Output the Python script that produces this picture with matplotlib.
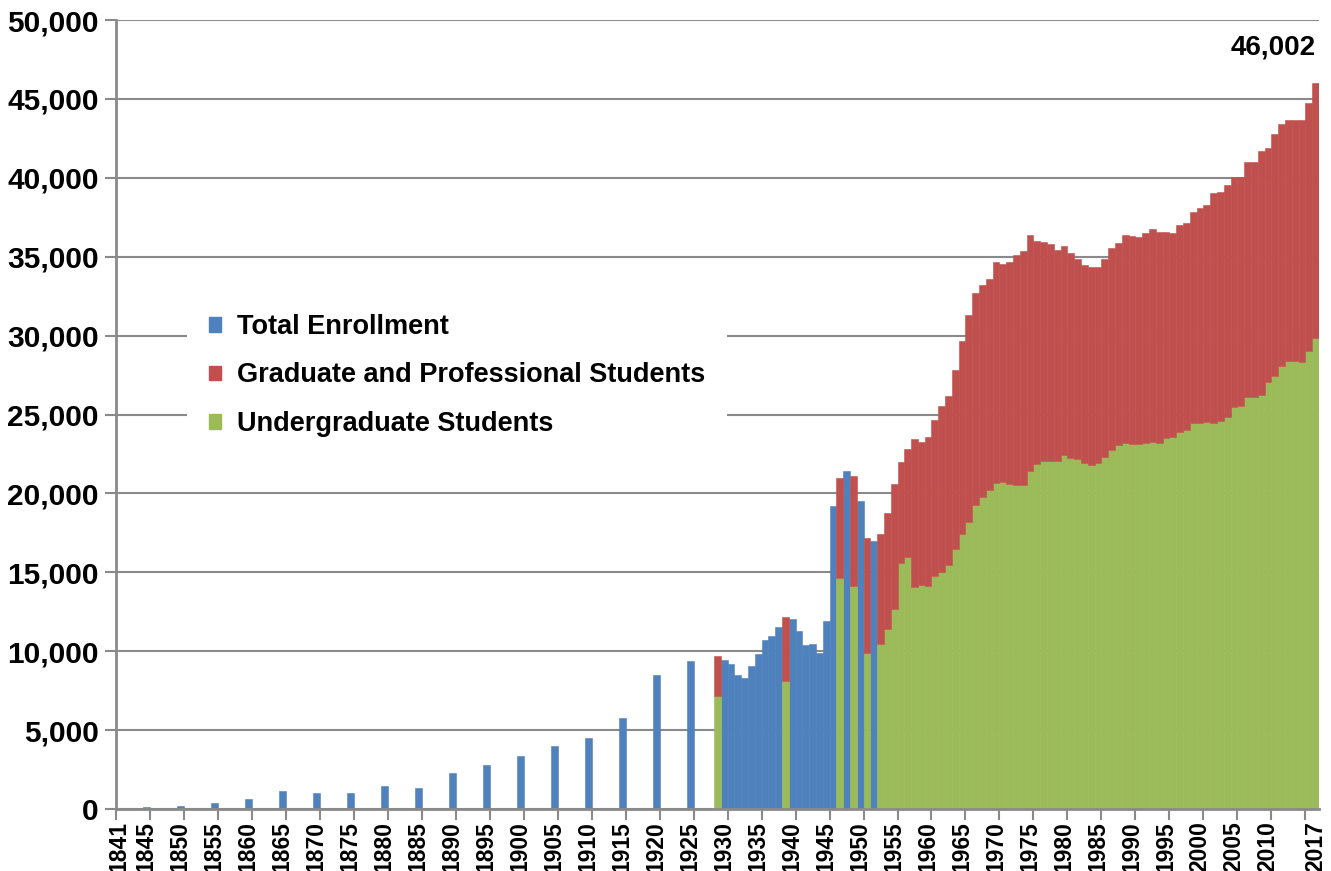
import matplotlib.pyplot as plt
from matplotlib.patches import Patch
from matplotlib.ticker import FuncFormatter, FixedLocator
import numpy as np

plt.rcParams['font.family'] = ['Liberation Sans', 'DejaVu Sans']

first_year = 1841
last_year = 2017

# years with only a total count (blue)
total_years = [1845, 1850, 1855, 1860, 1865, 1870, 1875, 1880, 1885, 1890, 1895,
               1900, 1905, 1910, 1915, 1920, 1925,
               1930, 1931, 1932, 1933, 1934, 1935, 1936, 1937, 1938,
               1940, 1941, 1942, 1943, 1944, 1945, 1946, 1948, 1950, 1952]
total_enrollment = [100, 160, 380, 610, 1160, 1040, 1040, 1460, 1340, 2310, 2780,
                    3330, 3960, 4510, 5760, 8470, 9360,
                    9430, 9175, 8520, 8285, 9050, 9850, 10680, 10975, 11505,
                    12035, 11275, 10385, 10425, 9915, 11890, 19180, 21400, 19540, 17015]

# years split into undergraduate / graduate
split_years = [1929, 1939, 1947, 1949, 1951] + list(range(1953, 2018))
undergrad = [7140, 8115, 14640, 14155, 9860,
             10470, 11400, 12700, 15590, 15980, 14100, 14180, 14150, 14740, 15045,
             15465, 16455, 17400, 18160, 19250, 19800, 20200, 20690, 20740, 20600,
             20560, 20520, 21400, 21850, 22040, 22040, 22040, 22420, 22250, 22160,
             21900, 21800, 21900, 22290, 22720, 23050, 23180, 23140, 23150, 23215,
             23280, 23170, 23530, 23550, 23910, 24020, 24440, 24480, 24520, 24480,
             24590, 24860, 25450, 25540, 26090, 26090, 26240, 27040, 27420, 28050,
             28370, 28410, 28330, 29050, 29850]
graduate = [2585, 4050, 6335, 6930, 7330,
            6980, 7360, 7920, 6420, 6810, 9370, 9050, 9420, 9930, 10515,
            10725, 11345, 12280, 13170, 13450, 13390, 13400, 13990, 13830, 14060,
            14570, 14840, 14950, 14150, 13870, 13780, 13380, 13260, 12960, 12690,
            12550, 12530, 12430, 12540, 12810, 12810, 13180, 13150, 13100, 13265,
            13470, 13370, 13050, 12970, 13090, 13130, 13410, 13620, 13770, 14530,
            14480, 14680, 14610, 14520, 14920, 14920, 15470, 14860, 15340, 15350,
            15320, 15240, 15320, 15700, 16152]

label_years = [1841] + list(range(1845, 2015, 5)) + [2017]

blue = '#4F81BD'
red = '#C0504D'
green = '#9BBB59'
grey = '#8A8A8A'

fig = plt.figure(figsize=(13.31, 8.71), dpi=100)
ax = fig.add_axes([0.0869, 0.0712, 0.9041, 0.9058])

xt = np.array(total_years) - first_year + 0.5
xs = np.array(split_years) - first_year + 0.5
ax.bar(xt, total_enrollment, width=1.0, color=blue, edgecolor=blue, linewidth=0.4, zorder=3)
ax.bar(xs, undergrad, width=1.0, color=green, edgecolor=green, linewidth=0.4, zorder=3)
ax.bar(xs, graduate, bottom=undergrad, width=1.0, color=red, edgecolor=red, linewidth=0.4, zorder=3)

ax.set_xlim(0, last_year - first_year + 1)
ax.set_ylim(0, 50000)

# y axis
ax.set_yticks(range(0, 50001, 5000))
ax.yaxis.set_major_formatter(FuncFormatter(lambda v, p: f'{int(v):,}'))
ax.yaxis.grid(True, color=grey, linewidth=1.5, zorder=0)
ax.tick_params(axis='y', length=8, width=1.5, color=grey, pad=4, labelsize=21.5)
for t in ax.get_yticklabels():
    t.set_fontweight('bold')

# x axis: labels at category centres, tick marks every 5 categories
ax.set_xticks(np.array(label_years) - first_year + 0.5)
ax.set_xticklabels([str(y) for y in label_years], rotation=90, fontsize=16.5, fontweight='bold')
ax.tick_params(axis='x', which='major', length=0, pad=9)
ax.xaxis.set_minor_locator(FixedLocator(np.arange(0, last_year - first_year + 1, 5)))
ax.tick_params(axis='x', which='minor', length=8, width=1.5, color=grey)

for s in ['top', 'right']:
    ax.spines[s].set_visible(False)
for s in ['left', 'bottom']:
    ax.spines[s].set_color(grey)
    ax.spines[s].set_linewidth(2)
    ax.spines[s].set_zorder(4)

ax.annotate('46,002', xy=(last_year - first_year + 1, undergrad[-1] + graduate[-1]),
            xytext=(-2, 16), textcoords='offset points', ha='right', va='bottom',
            fontsize=20, fontweight='bold')

handles = [Patch(color=blue), Patch(color=red), Patch(color=green)]
labels = ['Total Enrollment', 'Graduate and Professional Students', 'Undergraduate Students']
leg = ax.legend(handles, labels, loc='upper left', bbox_to_anchor=(0.048, 0.672),
                frameon=True, facecolor='white', edgecolor='none', framealpha=1,
                handlelength=0.45, handleheight=0.45, handletextpad=0.6,
                labelspacing=0.83, borderpad=0.8, prop={'size': 19.5, 'weight': 'bold'})
leg.set_zorder(5)

fig.savefig('out.png', dpi=100)
